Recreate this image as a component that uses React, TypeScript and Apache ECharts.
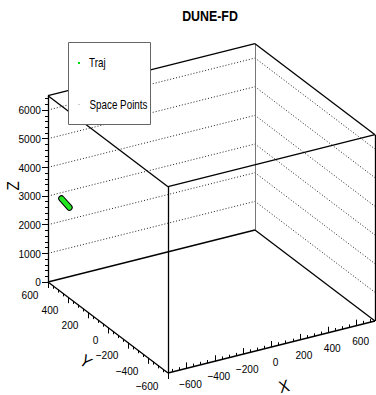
import React, { useEffect, useRef } from "react";
import * as echarts from "echarts";

// ---------------- data ----------------
const TITLE = "DUNE-FD";
const X_RANGE = [-730, 730];
const Y_RANGE = [-600, 600];
const Z_RANGE = [0, 6500];
const X_TICKS = [-600, -400, -200, 0, 200, 400, 600];
const Y_TICKS = [-600, -400, -200, 0, 200, 400, 600];
const Z_TICKS = [0, 1000, 2000, 3000, 4000, 5000, 6000];
const X_MINOR_STEP = 50;
const Y_MINOR_STEP = 50;
const Z_MINOR_STEP = 200;
const AXIS_TITLES = ["X", "Y", "Z"];
const TRAJ_X = [-700, -700];
const TRAJ_Y = [508, 428];
const TRAJ_Z = [3118, 3017];
const LEGEND_ITEMS = ["Traj", "Space Points"];

// ---------------- layout (projection) ----------------
const W = 376;
const H = 395;
const ORIGIN = [48, 282]; // screen position of (xmin, ymax, zmin)
const XV = [207, -52]; // full x range
const YV = [120, 91]; // full y range (ymax -> ymin)
const ZV = [0, -186.3]; // full z range
const SANS = "'Liberation Sans', Arial, Helvetica, sans-serif";

type P = [number, number];
function proj(x: number, y: number, z: number): P {
  const tx = (x - X_RANGE[0]) / (X_RANGE[1] - X_RANGE[0]);
  const ty = (Y_RANGE[1] - y) / (Y_RANGE[1] - Y_RANGE[0]);
  const tz = (z - Z_RANGE[0]) / (Z_RANGE[1] - Z_RANGE[0]);
  return [
    ORIGIN[0] + tx * XV[0] + ty * YV[0] + tz * ZV[0],
    ORIGIN[1] + tx * XV[1] + ty * YV[1] + tz * ZV[1],
  ];
}
const add = (p: P, dx: number, dy: number): P => [p[0] + dx, p[1] + dy];
const fmt = (v: number) => (v < 0 ? "\u2212" + Math.abs(v) : String(v));

function minors(range: number[], step: number, majors: number[]) {
  const out: number[] = [];
  const start = Math.ceil(range[0] / step) * step;
  for (let v = start; v <= range[1] + 1e-9; v += step) {
    if (!majors.includes(v)) out.push(v);
  }
  return out;
}

function buildOption() {
  const [xmin, xmax] = X_RANGE;
  const [ymin, ymax] = Y_RANGE;
  const [zmin, zmax] = Z_RANGE;
  const A = proj(xmin, ymax, zmin);
  const B = proj(xmin, ymin, zmin);
  const C = proj(xmax, ymin, zmin);
  const D = proj(xmax, ymax, zmin);
  const A2 = proj(xmin, ymax, zmax);
  const B2 = proj(xmin, ymin, zmax);
  const C2 = proj(xmax, ymin, zmax);
  const D2 = proj(xmax, ymax, zmax);

  const solid = [
    [A, B], [B, C], [A, D], [D, C],
    [A, A2], [B, B2], [C, C2],
    [A2, B2], [B2, C2], [A2, D2], [D2, C2],
  ].map((c) => ({ coords: c }));
  const grey = [[D, D2]].map((c) => ({ coords: c }));

  const grid: any[] = [];
  Z_TICKS.filter((z) => z > zmin).forEach((z) => {
    grid.push({ coords: [proj(xmin, ymax, z), proj(xmax, ymax, z)] });
    grid.push({ coords: [proj(xmax, ymax, z), proj(xmax, ymin, z)] });
  });

  const ticks: any[] = [];
  const MAJ = 6;
  const MIN = 3;
  Z_TICKS.forEach((z) => {
    const b = proj(xmin, ymax, z);
    ticks.push({ coords: [b, add(b, -MAJ, 0)] });
  });
  minors(Z_RANGE, Z_MINOR_STEP, Z_TICKS).forEach((z) => {
    const b = proj(xmin, ymax, z);
    ticks.push({ coords: [b, add(b, -MIN, 0)] });
  });
  X_TICKS.forEach((x) => {
    const b = proj(x, ymin, zmin);
    ticks.push({ coords: [b, add(b, 0, -MAJ)] });
  });
  minors(X_RANGE, X_MINOR_STEP, X_TICKS).forEach((x) => {
    const b = proj(x, ymin, zmin);
    ticks.push({ coords: [b, add(b, 0, -MIN)] });
  });
  Y_TICKS.forEach((y) => {
    const b = proj(xmin, y, zmin);
    ticks.push({ coords: [b, add(b, 0, MAJ)] });
  });
  minors(Y_RANGE, Y_MINOR_STEP, Y_TICKS).forEach((y) => {
    const b = proj(xmin, y, zmin);
    ticks.push({ coords: [b, add(b, 0, MIN)] });
  });

  type L = { p: P; text: string; align: string; rot?: number; size: number; sx: number };
  const labels: L[] = [];
  const LS = 11.5;
  const LSX = 0.88;
  Z_TICKS.forEach((z) => {
    const b = proj(xmin, ymax, z);
    labels.push({ p: add(b, -7, 0), text: fmt(z), align: "right", size: LS, sx: LSX });
  });
  Y_TICKS.forEach((y) => {
    const b = proj(xmin, y, zmin);
    labels.push({ p: add(b, -9.5, 12.5), text: fmt(y), align: "right", size: LS, sx: LSX });
  });
  X_TICKS.forEach((x) => {
    const b = proj(x, ymin, zmin);
    labels.push({ p: add(b, 4, 15), text: fmt(x), align: "center", size: LS, sx: LSX });
  });
  const xMid = proj((xmin + xmax) / 2, ymin, zmin);
  const yMid = proj(xmin, (ymin + ymax) / 2, zmin);
  const zMid = proj(xmin, ymax, (zmin + zmax) / 2);
  labels.push({ p: add(xMid, 12.5, 39), text: AXIS_TITLES[0], align: "center", rot: (14 * Math.PI) / 180, size: 17, sx: 0.9 });
  labels.push({ p: add(yMid, -22, 33.5), text: AXIS_TITLES[1], align: "center", rot: (-37 * Math.PI) / 180, size: 17, sx: 0.9 });
  labels.push({ p: add(zMid, -35.5, -3), text: AXIS_TITLES[2], align: "center", rot: Math.PI / 2, size: 17, sx: 0.9 });

  const traj = TRAJ_X.map((x, i) => proj(x, TRAJ_Y[i], TRAJ_Z[i]));

  return {
    animation: false,
    grid: { left: 0, right: 0, top: 0, bottom: 0 },
    xAxis: { type: "value", min: 0, max: W, show: false },
    yAxis: { type: "value", min: 0, max: H, inverse: true, show: false },
    series: [
      {
        type: "lines",
        coordinateSystem: "cartesian2d",
        silent: true,
        data: grid,
        lineStyle: { color: "#222", width: 1, type: [1, 2], opacity: 1 },
        z: 1,
      },
      {
        type: "lines",
        coordinateSystem: "cartesian2d",
        silent: true,
        data: grey,
        lineStyle: { color: "#777", width: 1, opacity: 1 },
        z: 2,
      },
      {
        type: "lines",
        coordinateSystem: "cartesian2d",
        silent: true,
        data: solid,
        lineStyle: { color: "#000", width: 1.3, opacity: 1 },
        z: 3,
      },
      {
        type: "lines",
        coordinateSystem: "cartesian2d",
        silent: true,
        data: ticks,
        lineStyle: { color: "#000", width: 1, opacity: 1 },
        z: 3,
      },
      {
        name: "Traj outline",
        type: "line",
        data: traj,
        showSymbol: false,
        silent: true,
        lineStyle: { color: "#000", width: 6.5, cap: "round" },
        z: 4,
      },
      {
        name: LEGEND_ITEMS[0],
        type: "line",
        data: traj,
        showSymbol: false,
        silent: true,
        lineStyle: { color: "#22e622", width: 4.5, cap: "round" },
        z: 5,
      },
      {
        type: "custom",
        coordinateSystem: "cartesian2d",
        silent: true,
        clip: false,
        data: labels.map((l) => l.p),
        renderItem: (params: any, api: any) => {
          const l = labels[params.dataIndex];
          const p = api.coord(l.p);
          return {
            type: "text",
            x: p[0],
            y: p[1],
            rotation: l.rot || 0,
            scaleX: l.sx,
            style: {
              text: l.text,
              align: l.align,
              verticalAlign: "middle",
              fontFamily: SANS,
              fontSize: l.size,
              fill: "#000",
            },
          };
        },
        z: 6,
      },
    ],
    graphic: [
      {
        type: "text",
        x: 210,
        y: 15,
        scaleX: 0.8,
        style: { text: TITLE, fontFamily: SANS, fontSize: 15.5, fontWeight: "bold", fill: "#000", align: "center", verticalAlign: "middle" },
        z: 101,
      },
      {
        type: "rect",
        shape: { x: 68.5, y: 42.5, width: 82, height: 82 },
        style: { fill: "#fff", stroke: "#666", lineWidth: 1 },
        z: 100,
      },
      {
        type: "rect",
        shape: { x: 78, y: 62, width: 2, height: 2 },
        style: { fill: "#00dd00" },
        z: 101,
      },
      {
        type: "rect",
        shape: { x: 78.5, y: 104, width: 1, height: 1 },
        style: { fill: "#999" },
        z: 101,
      },
      {
        type: "text",
        x: 89,
        y: 62.75,
        scaleX: 0.82,
        style: { text: LEGEND_ITEMS[0], fontFamily: SANS, fontSize: 12, fill: "#000", verticalAlign: "middle", align: "left" },
        z: 101,
      },
      {
        type: "text",
        x: 89.5,
        y: 104.5,
        scaleX: 0.82,
        style: { text: LEGEND_ITEMS[1], fontFamily: SANS, fontSize: 12, fill: "#000", verticalAlign: "middle", align: "left" },
        z: 101,
      },
    ],
  };
}

export default function App() {
  const ref = useRef<HTMLDivElement>(null);
  useEffect(() => {
    const chart = echarts.init(ref.current!, null, { renderer: "svg" });
    chart.setOption(buildOption() as any);
    return () => chart.dispose();
  }, []);
  return (
    <div
      ref={ref}
      style={{ position: "fixed", left: 0, top: 0, width: W, height: H, background: "#fff" }}
    />
  );
}
